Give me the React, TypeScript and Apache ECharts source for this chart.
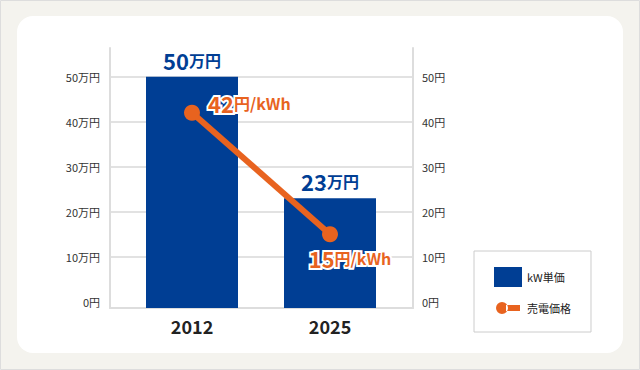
import React, { useEffect, useRef } from "react";
import * as echarts from "echarts";

// ---- data ----
const CATEGORIES = ["2012", "2025"];
const PANEL_PRICE = [50, 23]; // 万円 (kW単価)
const SELL_PRICE = [42, 15]; // 円/kWh (売電価格)
const LABEL_TICKS = [0, 10, 20, 30, 40, 50];
const GRID_TICKS = [10, 20, 30, 40, 50];
const SERIES_NAMES = ["kW単価", "売電価格"];

// ---- axis range / styling ----
const Y_MIN = -1.4;
const Y_MAX = 56.38;
const BLUE = "#003E94";
const ORANGE = "#E8631F";
const FONT = "'Noto Sans CJK JP', 'Noto Sans', sans-serif";

function richStyles(color: string) {
  const base = {
    fontWeight: "bold",
    color,
    lineHeight: 24,
    textBorderColor: "#fff",
    textBorderWidth: 4,
    fontFamily: FONT,
    opacity: 1,
  };
  return {
    n: { ...base, fontSize: 22 },
    u: { ...base, fontSize: 16 },
  };
}

export default function App() {
  const ref = useRef<HTMLDivElement>(null);

  useEffect(() => {
    document.body.style.margin = "0";
    if (!ref.current) return;
    const chart = echarts.init(ref.current, undefined, { renderer: "svg" });

    const lineLabelLayout = [
      { position: "right", distance: 8, offset: [0, -10] },
      { position: "bottom", distance: 4, offset: [20, 0] },
    ];

    const option: any = {
      animation: false,
      textStyle: { fontFamily: FONT },
      graphic: [
        {
          type: "rect",
          z: -10,
          shape: { x: 0.5, y: 0.5, width: 639, height: 369 },
          style: { fill: "#F4F3EE", stroke: "#DDDDDD", lineWidth: 1 },
          silent: true,
        },
        {
          type: "rect",
          z: -9,
          shape: { x: 17, y: 16, width: 606, height: 337, r: 16 },
          style: { fill: "#FFFFFF" },
          silent: true,
        },
      ],
      grid: [
        { left: 110, right: 227, top: 48, bottom: 62 },
        { left: 123, right: 241, top: 48, bottom: 62 },
      ],
      legend: {
        orient: "vertical",
        left: 474,
        top: 251,
        padding: [16, 20, 14, 20],
        itemGap: 11,
        itemWidth: 28,
        itemHeight: 20,
        borderColor: "#CCCCCC",
        borderWidth: 1,
        selectedMode: false,
        textStyle: { fontSize: 11, color: "#222", fontFamily: FONT },
        data: [
          { name: SERIES_NAMES[0], icon: "rect", itemStyle: { color: BLUE } },
          {
            name: SERIES_NAMES[1],
            icon:
              "path://M0 0 M28 20 M2 10 A6 6 0 1 0 14 10 A6 6 0 1 0 2 10 Z M12 7 L26 7 L26 13 L12 13 Z",
            itemStyle: { color: ORANGE, borderWidth: 0 },
          },
        ],
      },
      xAxis: [
        {
          gridIndex: 0,
          type: "category",
          data: CATEGORIES,
          axisLine: { show: true, onZero: false, lineStyle: { color: "#DDDDDD", width: 2 } },
          axisTick: { show: false },
          axisLabel: { show: false },
          splitLine: { show: false },
        },
        {
          gridIndex: 1,
          type: "category",
          data: CATEGORIES,
          axisLine: { show: false },
          axisTick: { show: false },
          axisLabel: {
            margin: 9,
            fontSize: 18,
            fontWeight: "bold",
            color: "#222",
            fontFamily: FONT,
          },
        },
      ],
      yAxis: [
        {
          gridIndex: 0,
          type: "value",
          position: "left",
          min: Y_MIN,
          max: Y_MAX,
          axisLine: { show: true, lineStyle: { color: "#DDDDDD", width: 2 } },
          axisTick: { show: false, customValues: GRID_TICKS },
          axisLabel: {
            customValues: LABEL_TICKS,
            margin: 10,
            fontSize: 11,
            color: "#333",
            fontFamily: FONT,
            formatter: (v: number) => (v === 0 ? "0円" : `${v}万円`),
          },
          splitLine: { show: true, lineStyle: { color: "#E2E2E2", width: 2 } },
        },
        {
          gridIndex: 0,
          type: "value",
          position: "right",
          min: Y_MIN,
          max: Y_MAX,
          axisLine: { show: true, lineStyle: { color: "#DDDDDD", width: 2 } },
          axisTick: { show: false, customValues: GRID_TICKS },
          axisLabel: {
            customValues: LABEL_TICKS,
            margin: 9,
            fontSize: 11,
            color: "#333",
            fontFamily: FONT,
            formatter: (v: number) => `${v}円`,
          },
          splitLine: { show: false },
        },
        { gridIndex: 1, type: "value", min: Y_MIN, max: Y_MAX, show: false },
        { gridIndex: 1, type: "value", min: Y_MIN, max: Y_MAX, show: false },
      ],
      series: [
        {
          name: SERIES_NAMES[0],
          type: "custom",
          xAxisIndex: 1,
          yAxisIndex: 2,
          z: 1,
          itemStyle: { color: BLUE },
          encode: { x: 0, y: 1 },
          data: PANEL_PRICE.map((v, i) => [i, v]),
          renderItem: (params: any, api: any) => {
            const top = api.coord([api.value(0), api.value(1)]);
            const cs = params.coordSys;
            const bottom = cs.y + cs.height;
            const w = api.size([1, 0])[0] * (2 / 3);
            return {
              type: "rect",
              shape: { x: top[0] - w / 2, y: top[1], width: w, height: bottom - top[1] },
              style: { fill: BLUE },
            };
          },
        },
        {
          name: SERIES_NAMES[1],
          type: "line",
          xAxisIndex: 1,
          yAxisIndex: 3,
          z: 2,
          symbol: "circle",
          symbolSize: 16,
          lineStyle: { color: ORANGE, width: 6 },
          itemStyle: { color: ORANGE, borderWidth: 0 },
          label: {
            show: true,
            formatter: (p: any) => `{n|${p.value}}{u|円/kWh}`,
            rich: richStyles(ORANGE),
          },
          data: SELL_PRICE.map((v, i) => ({ value: v, label: lineLabelLayout[i] })),
        },
        {
          name: "barLabels",
          type: "scatter",
          xAxisIndex: 1,
          yAxisIndex: 2,
          z: 3,
          silent: true,
          symbolSize: 0,
          itemStyle: { opacity: 1, color: BLUE },
          data: PANEL_PRICE,
          label: {
            show: true,
            position: "top",
            distance: 5,
            opacity: 1,
            formatter: (p: any) => `{n|${p.value}}{u|万円}`,
            rich: richStyles(BLUE),
          },
        },
      ],
    };

    chart.setOption(option);
    return () => chart.dispose();
  }, []);

  return <div ref={ref} style={{ width: 640, height: 370 }} />;
}
